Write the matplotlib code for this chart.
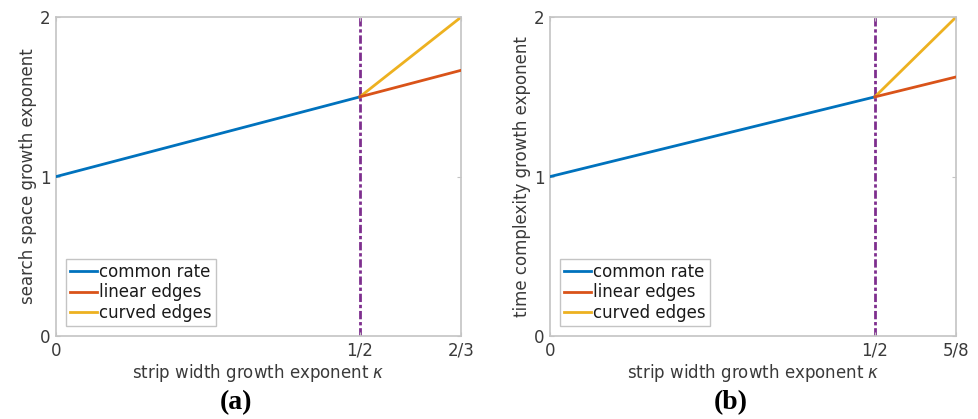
import matplotlib
matplotlib.use("Agg")
import matplotlib.pyplot as plt

# panel (a) and (b) data
kappa_common = [0, 1/2]
rate_common = [1, 1.5]

kappa_a = [1/2, 2/3]
linear_a = [1.5, 5/3]
curved_a = [1.5, 2]

kappa_b = [1/2, 5/8]
linear_b = [1.5, 1.625]
curved_b = [1.5, 2]

xticks_a = [0, 1/2, 2/3]
xticklabels_a = ['0', '1/2', '2/3']
xticks_b = [0, 1/2, 5/8]
xticklabels_b = ['0', '1/2', '5/8']
yticks = [0, 1, 2]

ylabels = ['search space growth exponent', 'time complexity growth exponent']
captions = ['(a)', '(b)']

blue = (0, 0.447, 0.741)
orange = (0.85, 0.325, 0.098)
yellow = (0.929, 0.694, 0.125)
purple = (0.494, 0.184, 0.556)
txt = '#3a3a3a'
edge = '#c4c4c4'

fig = plt.figure(figsize=(9.79, 4.19), dpi=100)
ax_a = fig.add_axes([0.0572, 0.198, 0.4137, 0.761])
ax_b = fig.add_axes([0.5618, 0.198, 0.4147, 0.761])

panels = [
    (ax_a, kappa_a, linear_a, curved_a, xticks_a, xticklabels_a),
    (ax_b, kappa_b, linear_b, curved_b, xticks_b, xticklabels_b),
]

for i, (ax, kx, lin, cur, xt, xtl) in enumerate(panels):
    ax.axvline(0.5, color=purple, lw=2, dashes=(3.0, 1.0, 1.2, 1.0), zorder=1)
    ax.plot(kappa_common, rate_common, color=blue, lw=2, label='common rate', zorder=3)
    ax.plot(kx, lin, color=orange, lw=2, label='linear edges', zorder=3)
    ax.plot(kx, cur, color=yellow, lw=2, label='curved edges', zorder=2)

    ax.set_xlim(0, xt[-1])
    ax.set_ylim(0, 2)
    ax.set_xticks(xt)
    ax.set_xticklabels(xtl)
    ax.set_yticks(yticks)
    ax.tick_params(direction='in', length=3, width=0.8, color=edge,
                   labelcolor=txt, labelsize=12, top=True, right=True, pad=4)
    for s in ax.spines.values():
        s.set_color(edge)
        s.set_linewidth(1.2)

    ax.set_xlabel('strip width growth exponent $\\kappa$', fontsize=12, color=txt, labelpad=2)
    ax.set_ylabel(ylabels[i], fontsize=12, color=txt, labelpad=2)

    leg = ax.legend(loc='lower left', fontsize=12, handlelength=1.6, handletextpad=0.15,
                    borderpad=0.25, labelspacing=0.15, borderaxespad=0.6,
                    fancybox=False, framealpha=1)
    leg.get_frame().set_edgecolor(edge)
    leg.get_frame().set_linewidth(1.0)
    for t in leg.get_texts():
        t.set_color('#1a1a1a')

    # panel caption under the x label
    ax.text(0.445, -0.21, captions[i], transform=ax.transAxes, ha='center', va='center',
            fontsize=20, fontweight='bold', family='Liberation Serif', color='black')

fig.savefig('out.png', dpi=100)
